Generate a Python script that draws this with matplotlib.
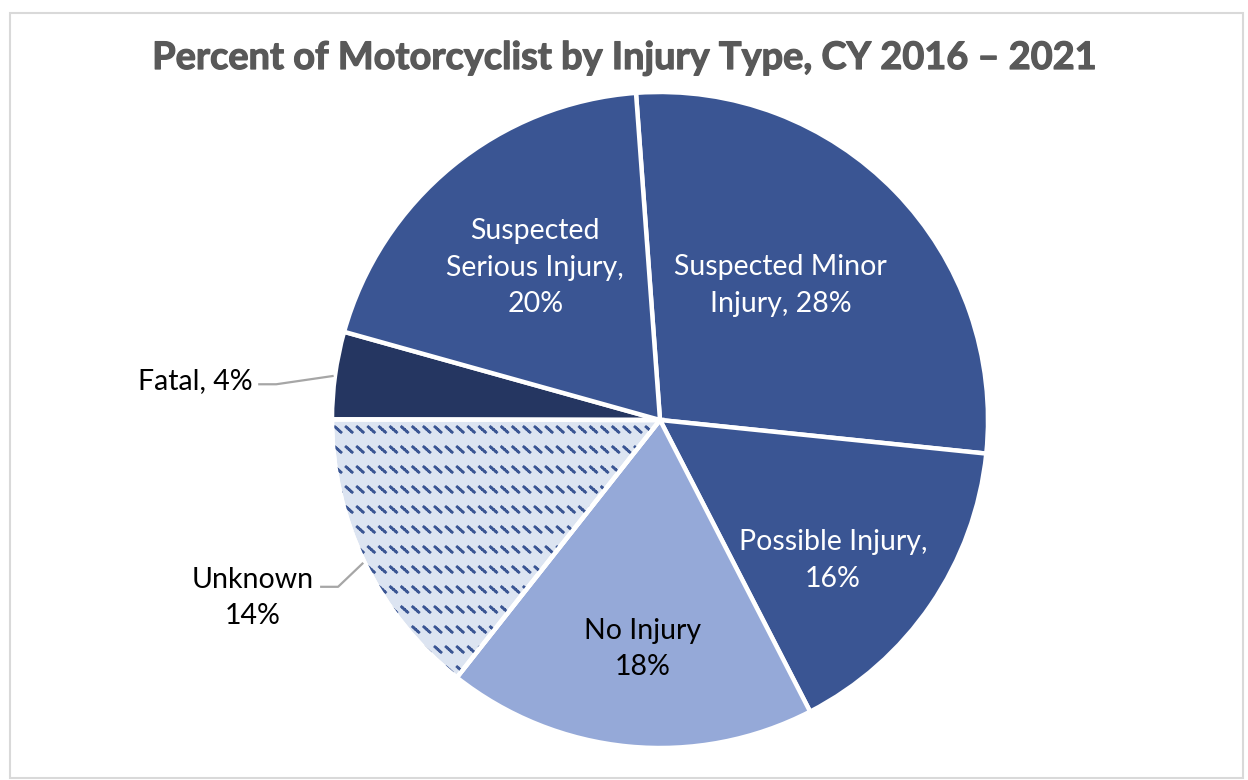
import numpy as np
import matplotlib
matplotlib.use("Agg")
import matplotlib.pyplot as plt
import matplotlib.hatch as mhatch
import matplotlib.patheffects as pe
from matplotlib.path import Path
from matplotlib.patches import Wedge, Rectangle
import warnings
warnings.filterwarnings("ignore")

# ---------------- data ----------------
categories = ["Suspected Minor Injury", "Possible Injury", "No Injury",
              "Unknown", "Fatal", "Suspected Serious Injury"]
percents = [27.8, 15.8, 18.2, 14.4, 4.3, 19.5]
label_texts = ["Suspected Minor\nInjury, 28%", "Possible Injury,\n16%",
               "No Injury\n18%", "Unknown\n14%", "Fatal, 4%",
               "Suspected\nSerious Injury,\n20%"]
title = "Percent of Motorcyclist by Injury Type, CY 2016 \u2013 2021"

# ---------------- style ----------------
colors = ["#3A5593", "#3A5593", "#95A9D8", "#DCE4F1", "#253661", "#3A5593"]
text_colors = ["white", "white", "black", "black", "black", "white"]
# label placement: (radius fraction, angle offset from wedge mid, in deg)
label_r = [0.55, 0.68, 0.70, 1.354, 1.423, 0.60]
label_dang = [4.0, -4.8, 1.2, -2.2, 3.1, 0.0]
outside = [False, False, False, True, True, False]
leader_ang = [None, None, None, -154.3, 172.3, None]
leader_dy_px = [0, 0, 0, -11, 3, 0]   # leader height vs. text centre (px, down +)


class DashRowHatch(mhatch.HatchPatternBase):
    """Rows of short diagonal dotted dashes (Excel-like pattern fill)."""
    def __init__(self, hatch, density):
        self.on = '~' in hatch
        self.rows = 5
        self.per_row = 9
        self.dots = 4
        self.num_vertices = (self.rows * self.per_row * self.dots * 2) if self.on else 0

    def set_vertices_and_codes(self, vertices, codes):
        ys = (np.arange(self.rows) + 0.5) / self.rows
        xs = (np.arange(self.per_row) + 0.15) / self.per_row
        X, Y = np.meshgrid(xs, ys)
        X = X.ravel(); Y = Y.ravel()
        dx, dy = 0.07, 0.062
        seg = 0.22
        k = 0
        for d in range(self.dots):
            f0 = d / (self.dots - 1) * (1 - seg)
            f1 = f0 + seg / (self.dots - 1)
            n = len(X)
            vertices[k:k + 2 * n:2, 0] = X + dx * f0
            vertices[k:k + 2 * n:2, 1] = Y + dy / 2 - dy * f0
            vertices[k + 1:k + 2 * n:2, 0] = X + dx * f1
            vertices[k + 1:k + 2 * n:2, 1] = Y + dy / 2 - dy * f1
            k += 2 * n
        codes[0::2] = Path.MOVETO
        codes[1::2] = Path.LINETO


mhatch._hatch_types.append(DashRowHatch)
plt.rcParams['hatch.linewidth'] = 2.0
plt.rcParams['hatch.color'] = "#3A5593"

FONT = ["Lato", "DejaVu Sans"]
plt.rcParams['font.family'] = FONT

W, H, DPI = 1248, 780, 100
fig = plt.figure(figsize=(W / DPI, H / DPI), dpi=DPI)
fig.patch.set_facecolor("white")

# Pie geometry in pixels
cx, cy, R = 660.0, 420.0, 328.0
ax = fig.add_axes([0, 0, 1, 1])

wedges, _ = ax.pie(percents, colors=colors, startangle=94.2, counterclock=False,
                   radius=1.0, center=(0, 0), frame=True,
                   wedgeprops=dict(edgecolor="white", linewidth=3.2))
ax.set_xlim(-cx / R, (W - cx) / R)
ax.set_ylim(-(H - cy) / R, cy / R)
ax.set_aspect("equal")
ax.axis("off")

# Pattern overlay for "Unknown"
iu = categories.index("Unknown")
wu = wedges[iu]
ax.add_patch(Wedge(wu.center, wu.r, wu.theta1, wu.theta2, facecolor="none",
                   edgecolor="#3A5593", linewidth=0, hatch="~",
                   zorder=wu.get_zorder() + 0.1))
ax.add_patch(Wedge(wu.center, wu.r, wu.theta1, wu.theta2, facecolor="none",
                   edgecolor="white", linewidth=3.2, zorder=wu.get_zorder() + 0.2))

fs = 20.5
texts = []
for i, w in enumerate(wedges):
    mid = np.deg2rad((w.theta1 + w.theta2) / 2 + label_dang[i])
    x, y = label_r[i] * np.cos(mid), label_r[i] * np.sin(mid)
    t = ax.text(x, y, label_texts[i], ha="center", va="center", fontsize=fs,
                color=text_colors[i], linespacing=1.5, zorder=5)
    texts.append((t, x, y))

fig.canvas.draw()
renderer = fig.canvas.get_renderer()
for i, (t, x, y) in enumerate(texts):
    if not outside[i]:
        continue
    bb = t.get_window_extent(renderer)
    first = label_texts[i].split("\n")[0]
    tmp = ax.text(0, 0, first, fontsize=fs)
    fw = tmp.get_window_extent(renderer).width
    tmp.remove()
    right_px = (bb.x0 + bb.x1) / 2 + fw / 2
    x0 = (right_px + 6) / R - cx / R
    ly = y - leader_dy_px[i] / R
    a = np.deg2rad(leader_ang[i])
    px, py = 1.004 * np.cos(a), 1.004 * np.sin(a)
    ax.plot([x0, x0 + 18 / R, px], [ly, ly, py], color="#A6A6A6", lw=1.6,
            solid_capstyle="butt", zorder=4)

fig.text(0.5, 1 - 58 / H, title, ha="center", va="center", fontsize=27.3,
         fontweight="bold", color="#595959",
         path_effects=[pe.withStroke(linewidth=0.9, foreground="#595959")])

# Chart-area border
fig.add_artist(Rectangle((10 / W, 1 - 778 / H), (1243 - 10) / W, (778 - 13) / H,
                         transform=fig.transFigure, facecolor="none",
                         edgecolor="#D9D9D9", linewidth=1.5))

fig.savefig("out.png", dpi=DPI, facecolor="white")
